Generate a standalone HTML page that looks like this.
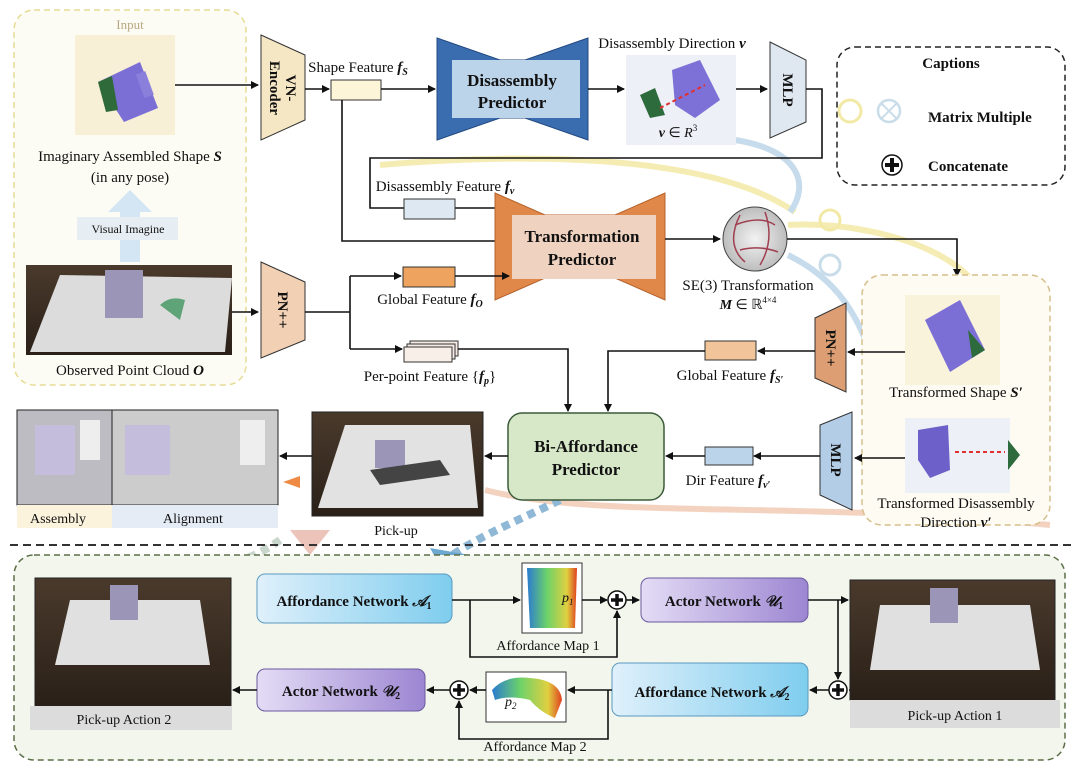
<!DOCTYPE html>
<html><head><meta charset="utf-8"><style>
body{margin:0;background:#fff}
svg{display:block}
text{font-family:"Liberation Serif",serif;fill:#111}
.b{font-weight:bold}
</style></head><body>
<svg width="1080" height="774" viewBox="0 0 1080 774" xmlns="http://www.w3.org/2000/svg">
<defs>
<marker id="a" markerWidth="8" markerHeight="8" refX="7" refY="4" orient="auto" markerUnits="userSpaceOnUse"><path d="M0,0 L8,4 L0,8 Z" fill="#111"/></marker>
<linearGradient id="gb" x1="0" x2="1"><stop offset="0" stop-color="#dff0fb"/><stop offset="1" stop-color="#7fcdee"/></linearGradient>
<linearGradient id="gp" x1="0" x2="1"><stop offset="0" stop-color="#e4dcf5"/><stop offset="1" stop-color="#9c86d2"/></linearGradient>
<linearGradient id="photo" x1="0" y1="0" x2="0" y2="1"><stop offset="0" stop-color="#4a3a2c"/><stop offset="1" stop-color="#2a2018"/></linearGradient>
<radialGradient id="sph"><stop offset="0" stop-color="#f2f2f2"/><stop offset="1" stop-color="#bdbdbd"/></radialGradient>
<linearGradient id="am" x1="0" x2="1"><stop offset="0" stop-color="#2a7bd0"/><stop offset="0.4" stop-color="#6cd26a"/><stop offset="0.8" stop-color="#e0d040"/><stop offset="1" stop-color="#e04020"/></linearGradient>
</defs>

<!-- decorative faint curves -->
<path d="M380,165 C560,150 720,160 795,212" stroke="#f3e7a0" stroke-width="6" fill="none" opacity="0.8"/>
<path d="M735,140 C800,150 810,185 790,212" stroke="#c6dcec" stroke-width="6" fill="none"/>
<path d="M788,225 C880,220 1010,260 985,340" stroke="#f3e7a0" stroke-width="6" fill="none" opacity="0.8"/>
<path d="M788,255 C880,300 860,380 915,420" stroke="#c6dcec" stroke-width="6" fill="none"/>
<path d="M485,490 C600,520 800,500 1050,525" stroke="#f0c8b0" stroke-width="6" fill="none" opacity="0.8"/>
<path d="M280,540 C260,555 230,565 210,575" stroke="#c9d6cc" stroke-width="8" stroke-dasharray="8 6" fill="none"/>
<path d="M560,500 C520,520 480,535 445,560" stroke="#8fb8d6" stroke-width="8" stroke-dasharray="8 6" fill="none"/>
<path d="M430,548 L470,555 L445,575 Z" fill="#6ca8d0"/>
<path d="M290,530 L330,530 L310,555 Z" fill="#e8b5a8" opacity="0.8"/>
<path d="M283,482 L300,476 L300,488 Z" fill="#ef8a44"/>

<!-- Input box -->
<rect x="14" y="10" width="232" height="375" rx="20" fill="#fdfcf4" stroke="#e6dc94" stroke-width="1.5" stroke-dasharray="6 4"/>
<text x="130" y="29" font-size="13" text-anchor="middle" style="fill:#b8a780">Input</text>
<rect x="75" y="35" width="100" height="100" fill="#f7efd6"/>
<path d="M98,82 L140,62 L158,108 L124,122 Z" fill="#7b6fd6"/>
<path d="M98,82 L112,76 L118,110 L106,112 Z" fill="#2f6b3a"/>
<rect x="140" y="72" width="10" height="25" fill="#8a80dc" transform="rotate(-20 145 85)"/>
<text x="130" y="161" font-size="15" text-anchor="middle">Imaginary Assembled Shape <tspan font-weight="bold" font-style="italic">S</tspan></text>
<text x="130" y="182" font-size="15" text-anchor="middle">(in any pose)</text>
<path d="M120,262 L120,212 L108,212 L130,190 L152,212 L140,212 L140,262 Z" fill="#d4e6f3"/>
<rect x="77" y="217" width="101" height="23" fill="#e7eef3"/>
<text x="128" y="233" font-size="12" text-anchor="middle">Visual Imagine</text>
<rect x="26" y="265" width="206" height="90" fill="url(#photo)"/>
<path d="M60,275 L232,278 L225,352 L30,352 Z" fill="#dcdcdc"/>
<rect x="105" y="270" width="38" height="48" fill="#9b95b8"/>
<path d="M160,305 Q170,295 185,300 L180,320 Z" fill="#5fa478"/>
<text x="130" y="375" font-size="15" text-anchor="middle">Observed Point Cloud <tspan font-weight="bold" font-style="italic">O</tspan></text>

<!-- VN encoder -->
<path d="M175,85 L258,85" stroke="#111" stroke-width="1.6" marker-end="url(#a)"/>
<path d="M261,35 L305,55 L305,120 L261,140 Z" fill="#f5e7c4" stroke="#333"/>
<text transform="translate(283,88) rotate(90)" font-size="15" class="b" text-anchor="middle" x="0" y="-3">VN-</text>
<text transform="translate(283,88) rotate(90)" font-size="15" class="b" text-anchor="middle" x="0" y="13">Encoder</text>
<path d="M305,89 L329,89" stroke="#111" stroke-width="1.6" marker-end="url(#a)"/>
<rect x="331" y="80" width="50" height="20" fill="#fcf5d8" stroke="#333"/>
<text x="358" y="72" font-size="15" text-anchor="middle">Shape Feature <tspan font-weight="bold" font-style="italic">f<tspan font-size="10" dy="3">S</tspan></tspan></text>
<path d="M381,89 L435,89" stroke="#111" stroke-width="1.6" marker-end="url(#a)"/>

<!-- Disassembly predictor -->
<path d="M437,38 L500,60 L525,60 L588,38 L588,140 L525,118 L500,118 L437,140 Z" fill="#3a6cb0" stroke="#244a80"/>
<rect x="452" y="60" width="128" height="58" fill="#bcd4ea"/>
<text x="512" y="86" font-size="17" class="b" text-anchor="middle">Disassembly</text>
<text x="512" y="108" font-size="17" class="b" text-anchor="middle">Predictor</text>
<path d="M588,89 L624,89" stroke="#111" stroke-width="1.6" marker-end="url(#a)"/>
<text x="672" y="48" font-size="15" text-anchor="middle">Disassembly Direction <tspan font-weight="bold" font-style="italic">v</tspan></text>
<rect x="626" y="55" width="110" height="90" fill="#eef0f8"/>
<path d="M672,70 L700,60 L720,100 L695,118 L675,105 Z" fill="#7d70d6"/>
<path d="M640,95 L655,88 L665,115 L650,118 Z" fill="#2e6b3c"/>
<path d="M660,108 L705,85" stroke="#e03030" stroke-width="2" stroke-dasharray="4 3"/>
<text x="678" y="137" font-size="14" text-anchor="middle"><tspan font-weight="bold" font-style="italic">v</tspan> ∈ <tspan font-style="italic">R</tspan><tspan font-size="9" dy="-6">3</tspan></text>
<path d="M736,89 L767,89" stroke="#111" stroke-width="1.6" marker-end="url(#a)"/>
<path d="M770,42 L806,60 L806,122 L770,138 Z" fill="#dfe7f1" stroke="#333"/>
<text transform="translate(788,90) rotate(90)" font-size="15" class="b" text-anchor="middle" y="5">MLP</text>
<path d="M806,89 L822,89 L822,158 L370,158 L370,208 L509,208" stroke="#111" stroke-width="1.6" fill="none" marker-end="url(#a)"/>
<rect x="404" y="199" width="51" height="20" fill="#dde8f2" stroke="#333"/>
<text x="445" y="191" font-size="15" text-anchor="middle">Disassembly Feature <tspan font-weight="bold" font-style="italic">f<tspan font-size="10" dy="3">v</tspan></tspan></text>
<path d="M342,100 L342,241 L509,241" stroke="#111" stroke-width="1.6" fill="none" marker-end="url(#a)"/>

<!-- Captions -->
<rect x="837" y="47" width="228" height="138" rx="18" fill="#fff" stroke="#222" stroke-width="1.5" stroke-dasharray="6 4"/>
<text x="951" y="68" font-size="15" class="b" text-anchor="middle">Captions</text>
<circle cx="850" cy="111" r="11" fill="none" stroke="#f3e9a6" stroke-width="3"/>
<circle cx="889" cy="111" r="11" fill="none" stroke="#c8dde9" stroke-width="2.5"/>
<path d="M881,103 L897,119 M897,103 L881,119" stroke="#c8dde9" stroke-width="2"/>
<text x="928" y="122" font-size="15" class="b">Matrix Multiple</text>
<circle cx="892" cy="165" r="10" fill="#fff" stroke="#111" stroke-width="1.5"/>
<path d="M892,158 L892,172 M885,165 L899,165" stroke="#111" stroke-width="4"/>
<text x="928" y="171" font-size="15" class="b">Concatenate</text>

<!-- Transformation predictor -->
<path d="M495,193 L545,215 L615,215 L665,193 L665,300 L615,278 L545,278 L495,300 Z" fill="#e0884a" stroke="#b4622c"/>
<rect x="512" y="215" width="144" height="64" fill="#efd2c0"/>
<text x="582" y="242" font-size="17" class="b" text-anchor="middle">Transformation</text>
<text x="582" y="265" font-size="17" class="b" text-anchor="middle">Predictor</text>
<path d="M665,239 L720,239" stroke="#111" stroke-width="1.6" marker-end="url(#a)"/>
<circle cx="755" cy="239" r="32" fill="url(#sph)" stroke="#444"/>
<path d="M740,215 Q725,245 745,262 M735,225 Q760,215 775,225 M740,250 Q760,245 778,252 M765,212 Q775,240 760,265" stroke="#a04050" stroke-width="1.5" fill="none"/>
<text x="748" y="290" font-size="15" text-anchor="middle">SE(3) Transformation</text>
<text x="748" y="309" font-size="14" text-anchor="middle"><tspan font-weight="bold" font-style="italic">M</tspan> ∈ ℝ<tspan font-size="9" dy="-6">4×4</tspan></text>
<path d="M787,239 L957,239 L957,276" stroke="#111" stroke-width="1.6" fill="none" marker-end="url(#a)"/>
<circle cx="830" cy="220" r="10" fill="none" stroke="#f3e9a6" stroke-width="3"/>
<circle cx="830" cy="265" r="10" fill="none" stroke="#c8dde9" stroke-width="3"/>

<!-- PN++ 1 -->
<path d="M232,312 L258,312" stroke="#111" stroke-width="1.6" marker-end="url(#a)"/>
<path d="M261,262 L305,282 L305,340 L261,358 Z" fill="#f2d0b4" stroke="#333"/>
<text transform="translate(283,310) rotate(90)" font-size="15" class="b" text-anchor="middle" y="5">PN++</text>
<path d="M305,312 L350,312 M350,276 L350,349 M350,276 L401,276 M350,349 L402,349" stroke="#111" stroke-width="1.6" fill="none"/>
<path d="M398,276 L401,276" stroke="#111" marker-end="url(#a)"/>
<path d="M398,349 L402,349" stroke="#111" marker-end="url(#a)"/>
<rect x="403" y="267" width="52" height="20" fill="#eea35e" stroke="#333"/>
<path d="M455,276 L509,276" stroke="#111" stroke-width="1.6" marker-end="url(#a)"/>
<text x="430" y="304" font-size="15" text-anchor="middle">Global Feature <tspan font-weight="bold" font-style="italic">f<tspan font-size="10" dy="3">O</tspan></tspan></text>
<rect x="410" y="341" width="48" height="15" fill="#f5ebe4" stroke="#333"/>
<rect x="407" y="344" width="48" height="15" fill="#f5ebe4" stroke="#333"/>
<rect x="404" y="347" width="48" height="15" fill="#f7efe8" stroke="#333"/>
<text x="430" y="381" font-size="15" text-anchor="middle">Per-point Feature {<tspan font-weight="bold" font-style="italic">f<tspan font-size="10" dy="3">p</tspan></tspan><tspan dy="-3">}</tspan></text>
<path d="M458,349 L568,349 L568,411" stroke="#111" stroke-width="1.6" fill="none" marker-end="url(#a)"/>

<!-- Transformed box -->
<rect x="862" y="275" width="188" height="250" rx="20" fill="#fefbf3" stroke="#d6bf8c" stroke-width="1.5" stroke-dasharray="6 4"/>
<rect x="905" y="295" width="95" height="90" fill="#faf3dc"/>
<path d="M925,320 L960,300 L985,350 L950,372 Z" fill="#7b6fd6"/>
<path d="M968,330 L985,350 L972,358 Z" fill="#2e6b3c"/>
<text x="956" y="397" font-size="15" text-anchor="middle">Transformed Shape <tspan font-weight="bold" font-style="italic">S′</tspan></text>
<rect x="905" y="418" width="105" height="75" fill="#eef0f8"/>
<path d="M918,430 L948,425 L950,470 L930,478 L918,460 Z" fill="#6d60c8"/>
<path d="M955,452 L1005,452" stroke="#e03030" stroke-width="2" stroke-dasharray="4 3"/>
<path d="M1008,440 L1020,455 L1008,470 Z" fill="#2e6b3c"/>
<text x="956" y="508" font-size="15" text-anchor="middle">Transformed Disassembly</text>
<text x="956" y="527" font-size="15" text-anchor="middle">Direction <tspan font-weight="bold" font-style="italic">v′</tspan></text>

<!-- PN++ 2 -->
<path d="M905,352 L848,352" stroke="#111" stroke-width="1.6" marker-end="url(#a)"/>
<path d="M815,318 L846,303 L846,392 L815,378 Z" fill="#dc9e72" stroke="#333"/>
<text transform="translate(831,348) rotate(90)" font-size="15" class="b" text-anchor="middle" y="5">PN++</text>
<path d="M815,351 L758,351" stroke="#111" stroke-width="1.6" marker-end="url(#a)"/>
<rect x="705" y="341" width="51" height="19" fill="#f2c49a" stroke="#333"/>
<text x="730" y="380" font-size="15" text-anchor="middle">Global Feature <tspan font-weight="bold" font-style="italic">f<tspan font-size="10" dy="3">S′</tspan></tspan></text>
<path d="M705,351 L608,351 L608,411" stroke="#111" stroke-width="1.6" fill="none" marker-end="url(#a)"/>

<!-- Bi-affordance -->
<rect x="508" y="413" width="156" height="87" rx="14" fill="#d6e8c8" stroke="#3b5a3a" stroke-width="1.5"/>
<text x="586" y="452" font-size="17" class="b" text-anchor="middle">Bi-Affordance</text>
<text x="586" y="475" font-size="17" class="b" text-anchor="middle">Predictor</text>
<path d="M905,458 L855,458" stroke="#111" stroke-width="1.6" marker-end="url(#a)"/>
<path d="M820,425 L852,412 L852,510 L820,495 Z" fill="#b4cde6" stroke="#333"/>
<text transform="translate(836,460) rotate(90)" font-size="15" class="b" text-anchor="middle" y="5">MLP</text>
<path d="M820,456 L754,456" stroke="#111" stroke-width="1.6" marker-end="url(#a)"/>
<rect x="705" y="447" width="48" height="18" fill="#bcd4ea" stroke="#333"/>
<path d="M705,456 L666,456" stroke="#111" stroke-width="1.6" marker-end="url(#a)"/>
<text x="728" y="485" font-size="15" text-anchor="middle">Dir Feature <tspan font-weight="bold" font-style="italic">f<tspan font-size="10" dy="3">v′</tspan></tspan></text>

<!-- Pick-up / assembly -->
<path d="M508,456 L485,456" stroke="#111" stroke-width="1.6" marker-end="url(#a)"/>
<rect x="312" y="412" width="171" height="104" fill="url(#photo)" stroke="#222"/>
<path d="M345,425 L470,425 L478,508 L318,508 Z" fill="#e2e2e2"/>
<rect x="375" y="440" width="30" height="28" fill="#9b95b8"/>
<path d="M370,470 L440,460 L450,475 L380,485 Z" fill="#444"/>
<text x="396" y="535" font-size="14" text-anchor="middle">Pick-up</text>
<path d="M312,456 L280,456" stroke="#111" stroke-width="1.6" marker-end="url(#a)"/>
<rect x="17" y="410" width="261" height="95" fill="#ccc" stroke="#222"/>
<rect x="17" y="410" width="95" height="95" fill="#bdbcc2" stroke="#222"/>
<rect x="35" y="425" width="40" height="50" fill="#c4bedc"/>
<rect x="80" y="420" width="20" height="40" fill="#eee"/>
<rect x="125" y="425" width="45" height="50" fill="#c4bedc"/>
<rect x="240" y="420" width="25" height="45" fill="#eee"/>
<rect x="17" y="505" width="95" height="23" fill="#fbf3dc"/>
<rect x="112" y="505" width="166" height="23" fill="#e5ecf5"/>
<text x="58" y="523" font-size="14" text-anchor="middle">Assembly</text>
<text x="193" y="523" font-size="14" text-anchor="middle">Alignment</text>

<!-- separator -->
<path d="M10,545 L1075,545" stroke="#333" stroke-width="2" stroke-dasharray="8 5"/>

<!-- bottom box -->
<rect x="14" y="555" width="1051" height="205" rx="20" fill="#f3f6ec" stroke="#5c6e48" stroke-width="1.5" stroke-dasharray="6 4"/>
<rect x="35" y="578" width="196" height="128" fill="url(#photo)" stroke="#222"/>
<path d="M70,600 L200,600 L210,665 L55,665 Z" fill="#e0e0e0"/>
<rect x="110" y="585" width="28" height="35" fill="#9b95b8"/>
<rect x="30" y="706" width="202" height="24" fill="#dcdcdc"/>
<text x="124" y="724" font-size="14" text-anchor="middle">Pick-up Action 2</text>
<rect x="850" y="580" width="205" height="120" fill="url(#photo)" stroke="#222"/>
<path d="M880,605 L1030,605 L1040,670 L870,670 Z" fill="#e0e0e0"/>
<rect x="930" y="588" width="28" height="35" fill="#9b95b8"/>
<rect x="850" y="700" width="210" height="28" fill="#dcdcdc"/>
<text x="955" y="720" font-size="14" text-anchor="middle">Pick-up Action 1</text>

<rect x="257" y="574" width="195" height="49" rx="8" fill="url(#gb)" stroke="#5a9ac0"/>
<text x="354" y="606" font-size="15" class="b" text-anchor="middle">Affordance Network <tspan font-style="italic">𝒜</tspan><tspan font-size="10" dy="3">1</tspan></text>
<path d="M452,600 L520,600" stroke="#111" stroke-width="1.6" marker-end="url(#a)"/>
<path d="M470,600 L470,657 L617,657 L617,611" stroke="#111" stroke-width="1.6" fill="none" marker-end="url(#a)"/>
<rect x="522" y="563" width="60" height="70" fill="#fff" stroke="#333"/>
<path d="M527,568 L577,568 L575,628 L530,628 Z" fill="url(#am)"/>
<text x="562" y="602" font-size="14" font-style="italic">p<tspan font-size="9" dy="3">1</tspan></text>
<text x="548" y="650" font-size="14" text-anchor="middle">Affordance Map 1</text>
<path d="M582,600 L607,600" stroke="#111" stroke-width="1.6" marker-end="url(#a)"/>
<circle cx="617" cy="600" r="9" fill="#fff" stroke="#111" stroke-width="1.5"/>
<path d="M617,594 L617,606 M611,600 L623,600" stroke="#111" stroke-width="3.5"/>
<path d="M626,600 L639,600" stroke="#111" stroke-width="1.6" marker-end="url(#a)"/>
<rect x="641" y="578" width="167" height="44" rx="8" fill="url(#gp)" stroke="#6a5aa0"/>
<text x="724" y="606" font-size="15" class="b" text-anchor="middle">Actor Network <tspan font-style="italic">𝒰</tspan><tspan font-size="10" dy="3">1</tspan></text>
<path d="M808,600 L848,600" stroke="#111" stroke-width="1.6" marker-end="url(#a)"/>
<path d="M838,600 L838,679" stroke="#111" stroke-width="1.6" marker-end="url(#a)"/>
<circle cx="838" cy="690" r="9" fill="#fff" stroke="#111" stroke-width="1.5"/>
<path d="M838,684 L838,696 M832,690 L844,690" stroke="#111" stroke-width="3.5"/>
<path d="M850,690 L849,690" stroke="#111" stroke-width="1.6"/>
<path d="M829,690 L810,690" stroke="#111" stroke-width="1.6" marker-end="url(#a)"/>
<rect x="612" y="663" width="196" height="53" rx="8" fill="url(#gb)" stroke="#5a9ac0" transform="scale(1)"/>
<text x="712" y="697" font-size="15" class="b" text-anchor="middle">Affordance Network <tspan font-style="italic">𝒜</tspan><tspan font-size="10" dy="3">2</tspan></text>
<path d="M612,690 L568,690" stroke="#111" stroke-width="1.6" marker-end="url(#a)"/>
<path d="M608,690 L608,739 L459,739 L459,701" stroke="#111" stroke-width="1.6" fill="none" marker-end="url(#a)"/>
<rect x="486" y="672" width="80" height="50" fill="#fff" stroke="#333"/>
<path d="M492,690 Q505,675 530,678 Q560,680 562,700 L555,718 Q540,712 530,700 Q510,695 495,700 Z" fill="url(#am)"/>
<text x="505" y="706" font-size="14" font-style="italic">p<tspan font-size="9" dy="3">2</tspan></text>
<text x="535" y="751" font-size="14" text-anchor="middle">Affordance Map 2</text>
<path d="M486,690 L470,690" stroke="#111" stroke-width="1.6" marker-end="url(#a)"/>
<circle cx="459" cy="690" r="9" fill="#fff" stroke="#111" stroke-width="1.5"/>
<path d="M459,684 L459,696 M453,690 L465,690" stroke="#111" stroke-width="3.5"/>
<path d="M450,690 L427,690" stroke="#111" stroke-width="1.6" marker-end="url(#a)"/>
<rect x="257" y="669" width="168" height="42" rx="8" fill="url(#gp)" stroke="#6a5aa0"/>
<text x="341" y="696" font-size="15" class="b" text-anchor="middle">Actor Network <tspan font-style="italic">𝒰</tspan><tspan font-size="10" dy="3">2</tspan></text>
<path d="M257,690 L233,690" stroke="#111" stroke-width="1.6" marker-end="url(#a)"/>
</svg>
</body></html>
